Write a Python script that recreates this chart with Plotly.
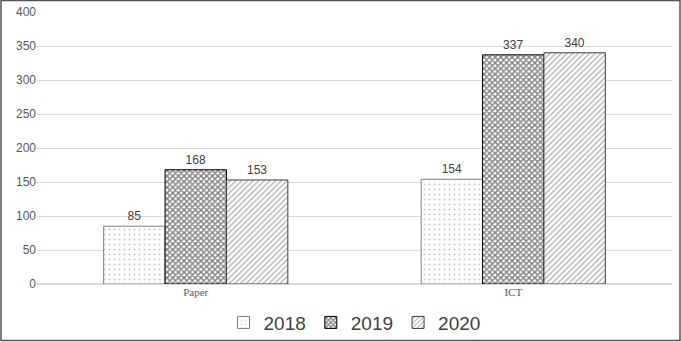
import plotly.graph_objects as go

categories = ["Paper", "ICT"]
years = ["2018", "2019", "2020"]
v2018 = [85, 154]
v2019 = [168, 337]
v2020 = [153, 340]

W, H = 681, 342
ML, MR, MT, MB = 37, 9, 12, 58
pw = W - ML - MR
ph = H - MT - MB

fig = go.Figure()
fig.add_trace(go.Bar(
    name="2018", x=categories, y=v2018, text=v2018,
    marker=dict(color="white", line=dict(color="#7f7f7f", width=1),
                pattern=dict(shape=".", fgcolor="#8c8c8c", bgcolor="white", size=5, solidity=0.12)),
))
fig.add_trace(go.Bar(
    name="2019", x=categories, y=v2019, text=v2019,
    marker=dict(color="white", line=dict(color="#000000", width=1),
                pattern=dict(shape="x", fgcolor="#000000", bgcolor="white", size=4, solidity=0.6)),
))
fig.add_trace(go.Bar(
    name="2020", x=categories, y=v2020, text=v2020,
    marker=dict(color="white", line=dict(color="#404040", width=1),
                pattern=dict(shape="/", fgcolor="#555555", bgcolor="white", size=4, solidity=0.3)),
))
fig.update_traces(textposition="outside", cliponaxis=False,
                  textfont=dict(family="Liberation Sans, Arial", size=12, color="#404040"))

fig.update_layout(
    width=W, height=H,
    margin=dict(l=ML, r=MR, t=MT, b=MB, autoexpand=False),
    paper_bgcolor="white", plot_bgcolor="white",
    barmode="group", bargap=0.42, bargroupgap=0,
    showlegend=True,
    legend=dict(orientation="h", x=0.5, xanchor="center", y=-0.072, yanchor="top",
                bgcolor="rgba(0,0,0,0)",
                font=dict(family="Liberation Sans, Arial", size=19, color="#404040"),
                itemwidth=30, tracegroupgap=0),
    xaxis=dict(showgrid=False, showline=False, ticks="",
               tickfont=dict(family="Liberation Serif, Times New Roman", size=11, color="#595959")),
    yaxis=dict(range=[0, 400], dtick=50, showgrid=True, gridcolor="#d9d9d9", gridwidth=1,
               zeroline=True, zerolinecolor="#d9d9d9", showline=False, ticks="",
               tickfont=dict(family="Liberation Sans, Arial", size=12, color="#595959")),
    shapes=[dict(type="rect", xref="paper", yref="paper",
                 x0=(1 - ML) / pw, x1=1 + (MR - 1) / pw,
                 y0=-(MB - 1.5) / ph, y1=1 + (MT - 0.5) / ph,
                 line=dict(color="#555555", width=1.5))],
)

fig.write_html("out.html", config={"displayModeBar": False},
               post_script="document.body.style.margin='0';document.body.style.overflow='hidden';")
